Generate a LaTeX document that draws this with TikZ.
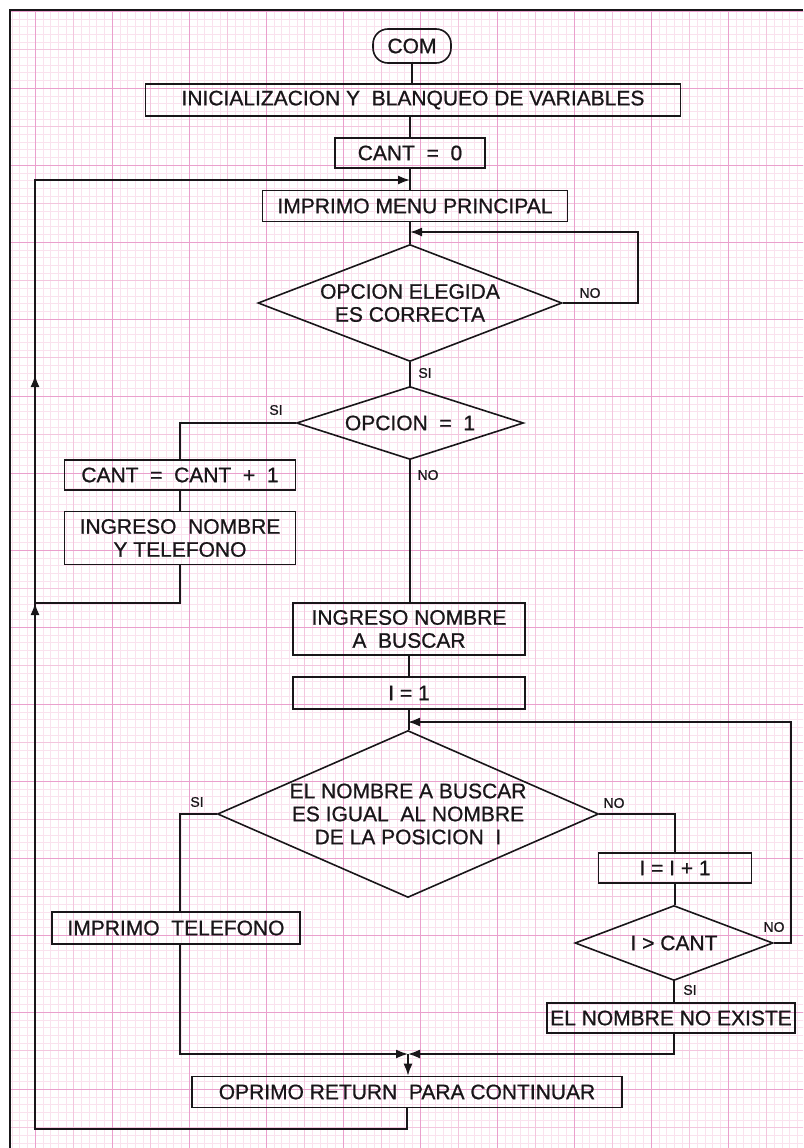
\documentclass[tikz,border=0pt]{standalone}
\usepackage{fontspec}
\setmainfont{Liberation Sans}
\newfontfamily\flow{Liberation Sans}[FakeBold=0.8]
\usetikzlibrary{shapes.geometric,arrows.meta,calc}
\definecolor{ink}{RGB}{25,22,25}
\definecolor{gridminor}{RGB}{250,226,238}
\definecolor{gridmid}{RGB}{243,198,222}
\definecolor{gridmajor}{RGB}{234,160,205}
\begin{document}
\begin{tikzpicture}[x=1pt,y=-1pt,
  txt/.style={font=\flow\fontsize{21}{23}\selectfont,align=center,text=ink},
  box/.style={txt,draw=ink,line width=1.6pt,inner sep=0pt,rectangle},
  term/.style={box,rounded corners=15pt},
  dec/.style={diamond,draw=ink,line width=1.6pt,inner sep=0pt,aspect=1},
  lbl/.style={font=\flow\fontsize{14}{14}\selectfont,text=ink},
  con/.style={draw=ink,line width=1.6pt},
  tip/.style={-{Latex[length=12pt,width=9pt]}}
]
\useasboundingbox (0,0) rectangle (803,1148);
% graph paper
\begin{scope}
\clip (10,10) rectangle (803,1148);
\draw[gridminor,line width=0.35pt,step=7.7pt,shift={(35pt,-11pt)}] (-40,-10) grid (800,1160);
\draw[gridmid,line width=0.5pt,step=38.5pt,shift={(35pt,-11pt)}] (-40,-10) grid (800,1160);
\draw[gridmajor,line width=0.8pt,step=77pt,shift={(35pt,-11pt)}] (-40,-10) grid (800,1160);
\end{scope}
\draw[ink,line width=1.3pt] (10,1148) -- (10,10) -- (803,10);

% nodes
\node[term,minimum width=78pt,minimum height=34pt] (com) at (412,46) {COM};
\node[box,minimum width=535pt,minimum height=32pt] (ini) at (413,100) {INICIALIZACION Y\ \ BLANQUEO DE VARIABLES};
\node[box,minimum width=150pt,minimum height=30pt] (c0) at (410,153) {CANT\ \ =\ \ 0};
\node[box,minimum width=305pt,minimum height=31pt] (menu) at (415,206) {IMPRIMO MENU PRINCIPAL};
\node[dec,minimum width=304pt,minimum height=117pt,label={[txt]center:OPCION ELEGIDA\\ES CORRECTA}] (d1) at (410,303) {};
\node[dec,minimum width=227pt,minimum height=73pt,label={[txt]center:OPCION\ \ =\ \ 1}] (d2) at (410,423) {};
\node[box,minimum width=231pt,minimum height=30pt] (inc) at (180,475) {CANT\ \ =\ \ CANT\ \ +\ \ 1};
\node[box,minimum width=231pt,minimum height=53pt] (ing) at (180,538) {INGRESO\ \ NOMBRE\\Y TELEFONO};
\node[box,minimum width=232pt,minimum height=52pt] (bus) at (409,629) {INGRESO NOMBRE\\A\ \ BUSCAR};
\node[box,minimum width=232pt,minimum height=32pt] (i1) at (409,693) {I = 1};
\node[dec,minimum width=381pt,minimum height=167pt,label={[txt]center:EL NOMBRE A BUSCAR\\ES IGUAL\ \ AL NOMBRE\\DE LA POSICION\ \ I}] (d3) at (408,814) {};
\node[box,minimum width=248pt,minimum height=32pt] (tel) at (176,928) {IMPRIMO\ \ TELEFONO};
\node[box,minimum width=153pt,minimum height=30pt] (ii) at (675,868) {I = I + 1};
\node[dec,minimum width=198pt,minimum height=75pt,label={[txt]center:I > CANT}] (d4) at (674,943) {};
\node[box,minimum width=248pt,minimum height=30pt] (noex) at (671,1018) {EL NOMBRE NO EXISTE};
\node[box,minimum width=430pt,minimum height=31pt] (opr) at (407,1092) {OPRIMO RETURN\ \ PARA CONTINUAR};

% coordinates
\coordinate (j1) at (410,180);
\coordinate (j2) at (410,232);
\coordinate (j3) at (408,722);
\coordinate (m) at (408,1054);
\coordinate (L) at (35,1129);
\coordinate (Ltop) at (35,180);
\coordinate (a1) at (35,375);
\coordinate (a2) at (35,603);

% main axis
\draw[con] (com.south) -- (com.south |- ini.north);
\draw[con] (c0.north) -- (c0.north |- ini.south);
\draw[con] (c0.south) -- (c0.south |- menu.north);
\draw[con] (d1.north |- menu.south) -- (d1.north);
\draw[con] (d1.south) -- (d2.north);
\draw[con] (d2.south) -- (d2.south |- bus.north);
\draw[con] (bus.south) -- (i1.north);
\draw[con] (i1.south) -- (i1.south |- d3.north);

% loop back on wrong option
\draw[con,tip] (d1.east) -- ++(75,0) |- (j2);
% return loop
\draw[con,tip] (opr.south) |- (L) -- (Ltop) -- (j1);
\draw[con,tip] ($(a1)+(0,14)$) -- (a1);
\draw[con] (ing.south) |- (a2);
\draw[con,tip] ($(a2)+(0,19)$) -- (a2);

% option 1 branch
\draw[con] (d2.west) -| (inc.north);
\draw[con] (inc.south) -- (ing.north);

% search
\draw[con] (d3.west) -| (inc.center |- tel.north);
\draw[con,tip] (inc.center |- tel.south) |- (m);
\draw[con] (d3.east) -| (ii.north);
\draw[con] (ii.south) -- (ii.south |- d4.north);
\draw[con,tip] (d4.east) -- ++(17,0) |- (j3);
\draw[con] (d4.south) -- (d4.south |- noex.north);
\draw[con,tip] (d4.south |- noex.south) |- (m);
\draw[con,tip] (m) -- (m |- opr.north);

% labels
\node[lbl] (l1) at (590,293) {NO};
\node[lbl] (l2) at (425,373) {SI};
\node[lbl] (l3) at (276,410) {SI};
\node[lbl] (l4) at (428,475) {NO};
\node[lbl] (l5) at (197,802) {SI};
\node[lbl] (l6) at (614,803) {NO};
\node[lbl] (l7) at (774,927) {NO};
\node[lbl] (l8) at (690,990) {SI};
\end{tikzpicture}
\end{document}
